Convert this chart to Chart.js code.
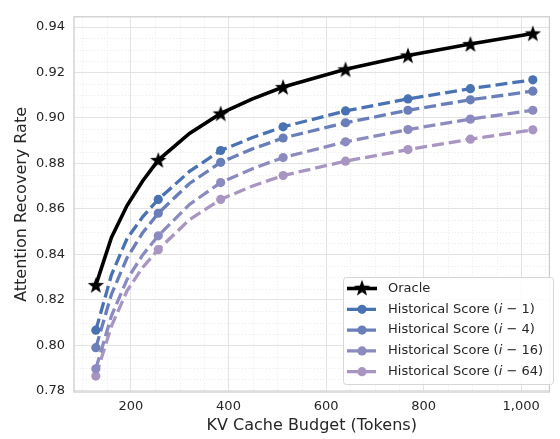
<!DOCTYPE html>
<html>
<head>
<meta charset="utf-8">
<script src="https://cdn.jsdelivr.net/npm/chart.js@4"></script>
<style>
  html, body { margin: 0; padding: 0; background: #fff; }
  #grafico { display: block; }
</style>
</head>
<body>
<canvas id="grafico" width="560" height="439"></canvas>
<script>
// valores
const tokens = [128, 160, 192, 224, 256, 320, 384, 448, 512, 640, 768, 896, 1024];
const marcadores = [128, 256, 384, 512, 640, 768, 896, 1024];

const oracle = [0.8265, 0.8475, 0.8615, 0.8723, 0.8815, 0.8932, 0.9020, 0.9083, 0.9136, 0.9214, 0.9275, 0.9325, 0.9372];
const hist1 = [0.8067, 0.8310, 0.8470, 0.8565, 0.8642, 0.8765, 0.8857, 0.8913, 0.8961, 0.9031, 0.9084, 0.9129, 0.9168];
const hist4 = [0.7990, 0.8225, 0.8385, 0.8495, 0.8581, 0.8712, 0.8805, 0.8863, 0.8912, 0.8979, 0.9034, 0.9080, 0.9118];
const hist16 = [0.7897, 0.8130, 0.8290, 0.8398, 0.8482, 0.8620, 0.8716, 0.8776, 0.8826, 0.8895, 0.8949, 0.8995, 0.9034];
const hist64 = [0.7865, 0.8085, 0.8240, 0.8343, 0.8421, 0.8553, 0.8642, 0.8700, 0.8747, 0.8810, 0.8861, 0.8907, 0.8948];

const legendas = ["Oracle", "Historical Score (i − 1)", "Historical Score (i − 4)", "Historical Score (i − 16)", "Historical Score (i − 64)"];
const cores = ["#000000", "#4872b2", "#6a7fb9", "#8b8bbf", "#a895c2"];

const xTicks = [200, 400, 600, 800, 1000];
const yTicks = [0.78, 0.80, 0.82, 0.84, 0.86, 0.88, 0.90, 0.92, 0.94];

const fonte = "'DejaVu Sans', sans-serif";
const corTexto = "#262626";

// estrela preenchida para o Oracle
const estrela = document.createElement("canvas");
estrela.width = 18;
estrela.height = 18;
(function () {
  const c = estrela.getContext("2d");
  c.beginPath();
  for (let k = 0; k < 10; k++) {
    const r = k % 2 === 0 ? 8.6 : 3.5;
    const a = -Math.PI / 2 + (k * Math.PI) / 5;
    const px = 9 + r * Math.cos(a);
    const py = 9.7 + r * Math.sin(a);
    if (k === 0) c.moveTo(px, py);
    else c.lineTo(px, py);
  }
  c.closePath();
  c.fillStyle = "#000";
  c.fill();
})();

function pontos(valores) {
  return tokens.map((t, i) => ({ x: t, y: valores[i] }));
}

function raios(r) {
  return tokens.map((t) => (marcadores.includes(t) ? r : 0));
}

function serieTracejada(label, valores, cor) {
  return {
    label: label,
    data: pontos(valores),
    borderColor: cor,
    backgroundColor: cor,
    pointBackgroundColor: cor,
    pointBorderColor: cor,
    borderWidth: 3.3,
    borderDash: [12, 5],
    pointRadius: raios(4.6),
    pointBorderWidth: 0,
    tension: 0,
  };
}

const minorGrid = {
  id: "minorGrid",
  beforeDatasetsDraw(chart) {
    const { ctx, chartArea: a, scales } = chart;
    ctx.save();
    ctx.strokeStyle = "#e6e6e6";
    ctx.lineWidth = 0.8;
    ctx.setLineDash([1, 2]);
    for (let v = 100; v <= 1050; v += 50) {
      if (v % 200 === 0) continue;
      const px = Math.round(scales.x.getPixelForValue(v)) + 0.5;
      if (px < a.left || px > a.right) continue;
      ctx.beginPath();
      ctx.moveTo(px, a.top);
      ctx.lineTo(px, a.bottom);
      ctx.stroke();
    }
    for (let k = 156; k <= 189; k++) {
      if (k % 4 === 0) continue;
      const py = Math.round(scales.y.getPixelForValue(k * 0.005)) + 0.5;
      if (py < a.top || py > a.bottom) continue;
      ctx.beginPath();
      ctx.moveTo(a.left, py);
      ctx.lineTo(a.right, py);
      ctx.stroke();
    }
    ctx.restore();
  },
  afterDatasetsDraw(chart) {
    const { ctx, chartArea: a } = chart;
    ctx.save();
    ctx.strokeStyle = "#cccccc";
    ctx.lineWidth = 1.25;
    ctx.strokeRect(a.left, a.top, a.right - a.left, a.bottom - a.top);
    ctx.restore();
  },
};

const legenda = {
  id: "legenda",
  afterDraw(chart) {
    const ctx = chart.ctx;
    ctx.save();
    ctx.beginPath();
    ctx.roundRect(343.5, 277.5, 210, 107, 3);
    ctx.fillStyle = "rgba(255,255,255,0.85)";
    ctx.fill();
    ctx.strokeStyle = "#d6d6d6";
    ctx.lineWidth = 1;
    ctx.stroke();

    chart.data.datasets.forEach((ds, i) => {
      const y = 288.5 + i * 20.8;
      ctx.beginPath();
      ctx.setLineDash(ds.borderDash || []);
      ctx.strokeStyle = ds.borderColor;
      ctx.lineWidth = ds.borderWidth;
      ctx.moveTo(347, y);
      ctx.lineTo(377, y);
      ctx.stroke();
      ctx.setLineDash([]);
      if (i === 0) {
        ctx.drawImage(estrela, 362 - 9, y - 9.7);
      } else {
        ctx.beginPath();
        ctx.arc(362, y, 4.6, 0, Math.PI * 2);
        ctx.fillStyle = ds.pointBackgroundColor;
        ctx.fill();
      }

      ctx.fillStyle = corTexto;
      ctx.textBaseline = "middle";
      ctx.textAlign = "left";
      let x = 388;
      const m = ds.label.match(/^(.*\()i(.*)$/);
      const partes = m ? [[m[1], false], ["i", true], [m[2], false]] : [[ds.label, false]];
      partes.forEach(([txt, italico]) => {
        ctx.font = (italico ? "italic " : "") + "13px " + fonte;
        ctx.fillText(txt, x, y);
        x += ctx.measureText(txt).width;
      });
    });
    ctx.restore();
  },
};

const grafico = new Chart(document.getElementById("grafico"), {
  type: "line",
  data: {
    datasets: [
      {
        label: legendas[0],
        data: pontos(oracle),
        borderColor: cores[0],
        backgroundColor: cores[0],
        pointBackgroundColor: cores[0],
        borderWidth: 3.6,
        pointStyle: estrela,
        pointRadius: raios(7),
        tension: 0,
      },
      serieTracejada(legendas[1], hist1, cores[1]),
      serieTracejada(legendas[2], hist4, cores[2]),
      serieTracejada(legendas[3], hist16, cores[3]),
      serieTracejada(legendas[4], hist64, cores[4]),
    ],
  },
  options: {
    responsive: false,
    animation: false,
    layout: { padding: { top: 3, right: 1, left: 0, bottom: 0 } },
    plugins: { legend: { display: false }, tooltip: { enabled: false } },
    scales: {
      x: {
        type: "linear",
        min: 83.2,
        max: 1058,
        afterBuildTicks: (s) => { s.ticks = xTicks.map((v) => ({ value: v })); },
        afterFit: (s) => { s.height = 47; },
        grid: { color: "#e3e3e3", lineWidth: 1, drawTicks: false },
        border: { display: false },
        ticks: { color: corTexto, font: { family: fonte, size: 13 }, padding: 7, maxRotation: 0 },
        title: {
          display: true,
          text: "KV Cache Budget (Tokens)",
          color: corTexto,
          font: { family: fonte, size: 16, lineHeight: 1.2 },
          padding: { top: 0, bottom: 4 },
        },
      },
      y: {
        min: 0.7795,
        max: 0.9445,
        afterBuildTicks: (s) => { s.ticks = yTicks.map((v) => ({ value: v })); },
        afterFit: (s) => { s.width = 74; },
        grid: { color: "#e3e3e3", lineWidth: 1, drawTicks: false },
        border: { display: false },
        ticks: {
          color: corTexto,
          font: { family: fonte, size: 13 },
          padding: 9,
          callback: (v) => Number(v).toFixed(2),
        },
        title: {
          display: true,
          text: "Attention Recovery Rate",
          color: corTexto,
          font: { family: fonte, size: 16, lineHeight: 1.2 },
          padding: { top: 12, bottom: 0 },
        },
      },
    },
  },
  plugins: [minorGrid, legenda],
});
</script>
</body>
</html>
